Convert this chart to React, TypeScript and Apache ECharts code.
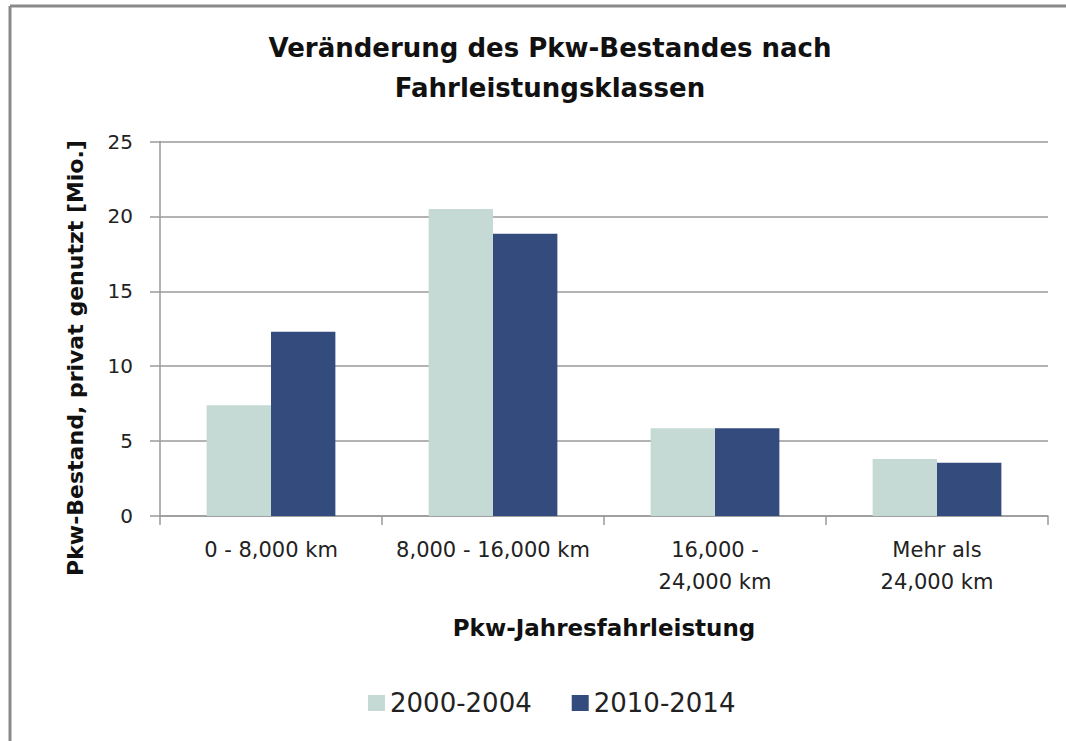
import React, { useEffect, useRef } from "react";
import * as echarts from "echarts";

const categories = ["0 - 8,000 km", "8,000 - 16,000 km", "16,000 -\n24,000 km", "Mehr als\n24,000 km"];
const series2000 = [7.4, 20.5, 5.85, 3.8];
const series2010 = [12.3, 18.85, 5.85, 3.55];
const seriesNames = ["2000-2004", "2010-2014"];
const yTicks = { min: 0, max: 25, interval: 5 };

const titleText = "Veränderung des Pkw-Bestandes nach\nFahrleistungsklassen";
const yName = "Pkw-Bestand, privat genutzt [Mio.]";
const xName = "Pkw-Jahresfahrleistung";

export default function App() {
  const ref = useRef<HTMLDivElement>(null);
  useEffect(() => {
    if (!ref.current) return;
    const chart = echarts.init(ref.current, null, { renderer: "svg" });
    const font = "'DejaVu Sans', 'Open Sans', sans-serif";
    const gray = "#9a9a9a";
    chart.setOption({
      animation: false,
      backgroundColor: "#ffffff",
      title: {
        text: titleText,
        left: 545,
        top: 23,
        textAlign: "center",
        textStyle: { fontFamily: font, fontWeight: "bold", fontSize: 26, lineHeight: 40, color: "#111" },
      },
      legend: {
        data: seriesNames,
        left: 363,
        top: 685,
        itemWidth: 17,
        itemHeight: 16,
        itemGap: 40,
        icon: "rect",
        textStyle: { fontFamily: font, fontSize: 26, color: "#222" },
      },
      grid: { left: 160, top: 141.5, width: 888, height: 374.5 },
      xAxis: {
        type: "category",
        data: categories,
        name: xName,
        nameLocation: "middle",
        nameGap: 100,
        nameTextStyle: { fontFamily: font, fontWeight: "bold", fontSize: 23, color: "#111" },
        axisLine: { lineStyle: { color: gray, width: 1.5 } },
        axisTick: { show: true, length: 9, lineStyle: { color: gray, width: 1.5 } },
        axisLabel: { fontFamily: font, fontSize: 21, color: "#222", margin: 18, lineHeight: 32, interval: 0 },
      },
      yAxis: {
        type: "value",
        min: yTicks.min,
        max: yTicks.max,
        interval: yTicks.interval,
        axisLine: { show: true, lineStyle: { color: gray, width: 1.5 } },
        axisTick: { show: true, length: 10, lineStyle: { color: gray, width: 1.5 } },
        splitLine: { lineStyle: { color: gray, width: 1.5 } },
        axisLabel: { fontFamily: font, fontSize: 20, color: "#222", margin: 27 },
      },
      series: [
        {
          name: seriesNames[0],
          type: "bar",
          data: series2000,
          barGap: "0%",
          barCategoryGap: "42%",
          itemStyle: { color: "#c5dad5" },
        },
        {
          name: seriesNames[1],
          type: "bar",
          data: series2010,
          barGap: "0%",
          barCategoryGap: "42%",
          itemStyle: { color: "#344b7e" },
        },
      ],
      graphic: [
        {
          type: "line",
          shape: { x1: 10, y1: 6, x2: 1066, y2: 6 },
          style: { stroke: "#8a8a8a", lineWidth: 3 },
          silent: true,
        },
        {
          type: "line",
          shape: { x1: 10, y1: 6, x2: 10, y2: 741 },
          style: { stroke: "#8a8a8a", lineWidth: 3 },
          silent: true,
        },
        {
          type: "text",
          x: 75,
          y: 358,
          rotation: Math.PI / 2,
          style: {
            text: yName,
            fontFamily: font,
            fontWeight: "bold",
            fontSize: 22,
            fill: "#111",
            align: "center",
            verticalAlign: "middle",
          },
        },
      ],
    });
    return () => chart.dispose();
  }, []);
  return (
    <div
      ref={ref}
      style={{ position: "fixed", left: 0, top: 0, width: 1066, height: 741 }}
    />
  );
}
